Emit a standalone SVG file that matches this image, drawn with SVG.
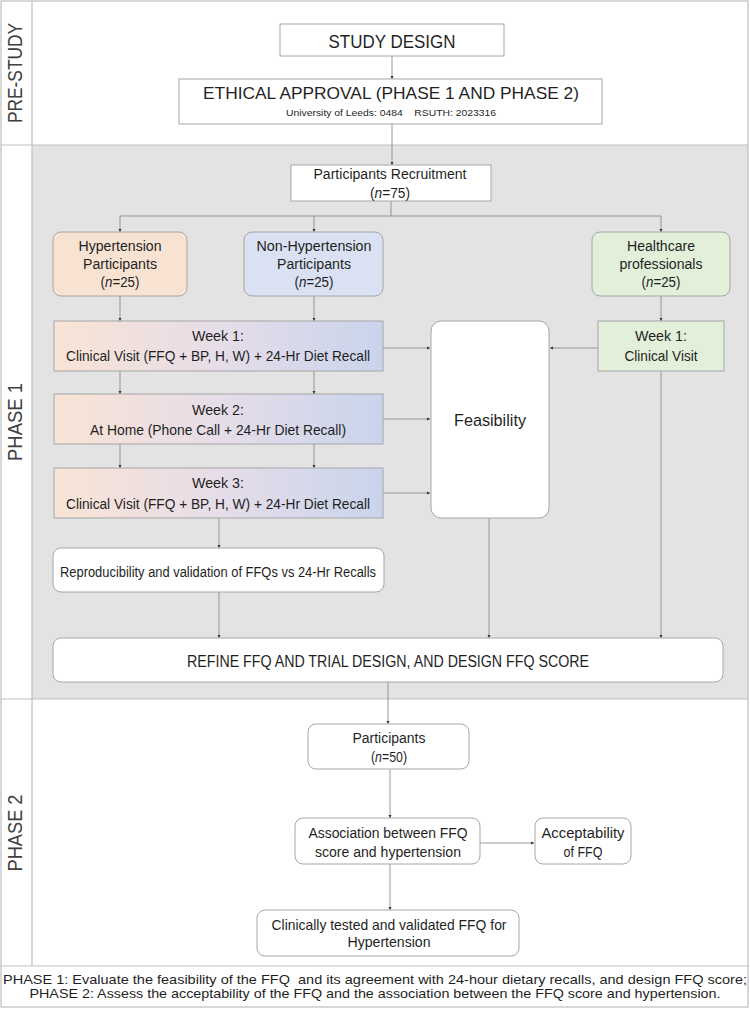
<svg xmlns="http://www.w3.org/2000/svg" width="750" height="1009" viewBox="0 0 750 1009">
<defs>
<style>
text{font-family:"Liberation Sans",Arial,sans-serif;fill:#1f1f1f;text-anchor:middle}
.t14{font-size:14px}
.t15{font-size:15px}
.t13{font-size:13px}
.lab{font-size:20px;fill:#404040}
.box{fill:#fff;stroke:#a6a6a6;stroke-width:1}
.hyp{fill:#f8e3d3;stroke:#a6a6a6;stroke-width:1}
.non{fill:#d9e1f2;stroke:#a6a6a6;stroke-width:1}
.hc{fill:#e2efd9;stroke:#a6a6a6;stroke-width:1}
.wk{fill:url(#gw);stroke:#a6a6a6;stroke-width:1}
.c{fill:none;stroke:#8c8c8c;stroke-width:0.9}
.frame{fill:none;stroke:#bfbfbf;stroke-width:1.2}
</style>
<linearGradient id="gw" x1="0" y1="0" x2="1" y2="0">
<stop offset="0" stop-color="#f9e4d5"/>
<stop offset="0.5" stop-color="#e6dde8"/>
<stop offset="1" stop-color="#c9d4ec"/>
</linearGradient>
<marker id="ah" markerWidth="4" markerHeight="4" refX="3" refY="2" orient="auto" markerUnits="userSpaceOnUse">
<path d="M0,0.5 L3,2 L0,3.5 Z" fill="#333"/>
</marker>
</defs>

<g id="background">
<rect x="0" y="0" width="750" height="1009" fill="#fff"/>
<rect x="32" y="145" width="716" height="554" fill="#e3e3e3"/>
<rect x="1" y="1" width="747" height="1006" class="frame"/>
<line x1="32" y1="1" x2="32" y2="966" class="frame"/>
<line x1="1" y1="145" x2="748" y2="145" class="frame"/>
<line x1="1" y1="699" x2="748" y2="699" class="frame"/>
<line x1="1" y1="966" x2="748" y2="966" class="frame"/>
</g>

<g id="labels">
<text class="lab" transform="translate(22,73) rotate(-90)" textLength="100" lengthAdjust="spacingAndGlyphs">PRE-STUDY</text>
<text class="lab" transform="translate(22,422) rotate(-90)" textLength="78" lengthAdjust="spacingAndGlyphs">PHASE 1</text>
<text class="lab" transform="translate(22,833) rotate(-90)" textLength="77" lengthAdjust="spacingAndGlyphs">PHASE 2</text>
</g>

<g id="connectors">
<line x1="392" y1="56" x2="392" y2="79" class="c" marker-end="url(#ah)"/>
<line x1="392" y1="124" x2="392" y2="165" class="c" marker-end="url(#ah)"/>
<polyline points="391,201 391,216" class="c"/>
<line x1="120" y1="216" x2="661" y2="216" class="c"/>
<line x1="120" y1="216" x2="120" y2="232" class="c" marker-end="url(#ah)"/>
<line x1="314" y1="216" x2="314" y2="232" class="c" marker-end="url(#ah)"/>
<line x1="661" y1="216" x2="661" y2="232" class="c" marker-end="url(#ah)"/>
<line x1="120" y1="296" x2="120" y2="321" class="c" marker-end="url(#ah)"/>
<line x1="314" y1="296" x2="314" y2="321" class="c" marker-end="url(#ah)"/>
<line x1="661" y1="296" x2="661" y2="321" class="c" marker-end="url(#ah)"/>
<line x1="120" y1="371" x2="120" y2="394" class="c" marker-end="url(#ah)"/>
<line x1="314" y1="371" x2="314" y2="394" class="c" marker-end="url(#ah)"/>
<line x1="120" y1="444" x2="120" y2="468" class="c" marker-end="url(#ah)"/>
<line x1="314" y1="444" x2="314" y2="468" class="c" marker-end="url(#ah)"/>
<line x1="383" y1="348" x2="430" y2="348" class="c" marker-end="url(#ah)"/>
<line x1="383" y1="419" x2="430" y2="419" class="c" marker-end="url(#ah)"/>
<line x1="383" y1="493" x2="430" y2="493" class="c" marker-end="url(#ah)"/>
<line x1="598" y1="348" x2="550" y2="348" class="c" marker-end="url(#ah)"/>
<line x1="219" y1="518" x2="219" y2="548" class="c" marker-end="url(#ah)"/>
<line x1="219" y1="592" x2="219" y2="638" class="c" marker-end="url(#ah)"/>
<line x1="489" y1="518" x2="489" y2="638" class="c" marker-end="url(#ah)"/>
<line x1="661" y1="371" x2="661" y2="638" class="c" marker-end="url(#ah)"/>
<line x1="388" y1="682" x2="388" y2="724" class="c" marker-end="url(#ah)"/>
<line x1="390" y1="769" x2="390" y2="818" class="c" marker-end="url(#ah)"/>
<line x1="480" y1="843" x2="534" y2="843" class="c" marker-end="url(#ah)"/>
<line x1="390" y1="864" x2="390" y2="910" class="c" marker-end="url(#ah)"/>
</g>

<g id="study-design">
<rect x="280" y="24" width="224" height="32" class="box"/>
<text x="392" y="48" style="font-size:18px" textLength="127" lengthAdjust="spacingAndGlyphs">STUDY DESIGN</text>
</g>

<g id="ethical-approval">
<rect x="179" y="79" width="423" height="45" class="box"/>
<text x="391" y="98.5" style="font-size:16.5px" textLength="376" lengthAdjust="spacingAndGlyphs">ETHICAL APPROVAL (PHASE 1 AND PHASE 2)</text>
<text x="391" y="116" style="font-size:9.5px" textLength="210" lengthAdjust="spacingAndGlyphs" xml:space="preserve">University of Leeds: 0484    RSUTH: 2023316</text>
</g>

<g id="recruitment">
<rect x="291" y="165" width="200" height="36" class="box"/>
<text x="390" y="179" class="t14" textLength="153" lengthAdjust="spacingAndGlyphs">Participants Recruitment</text>
<text x="390" y="198" class="t14" textLength="40" lengthAdjust="spacingAndGlyphs">(<tspan font-style="italic">n</tspan>=75)</text>
</g>

<g id="hypertension">
<rect x="53" y="232" width="134" height="64" rx="8" class="hyp"/>
<text x="120" y="251" class="t14" textLength="83" lengthAdjust="spacingAndGlyphs">Hypertension</text>
<text x="120" y="268.5" class="t14" textLength="74" lengthAdjust="spacingAndGlyphs">Participants</text>
<text x="120" y="286.5" class="t14" textLength="39" lengthAdjust="spacingAndGlyphs">(<tspan font-style="italic">n</tspan>=25)</text>
</g>

<g id="non-hypertension">
<rect x="244" y="232" width="139" height="64" rx="8" class="non"/>
<text x="314" y="251" class="t14" textLength="115" lengthAdjust="spacingAndGlyphs">Non-Hypertension</text>
<text x="314" y="268.5" class="t14" textLength="74" lengthAdjust="spacingAndGlyphs">Participants</text>
<text x="314" y="286.5" class="t14" textLength="39" lengthAdjust="spacingAndGlyphs">(<tspan font-style="italic">n</tspan>=25)</text>
</g>

<g id="healthcare">
<rect x="592" y="232" width="138" height="64" rx="8" class="hc"/>
<text x="661" y="251" class="t14" textLength="68" lengthAdjust="spacingAndGlyphs">Healthcare</text>
<text x="661" y="268.5" class="t14" textLength="83" lengthAdjust="spacingAndGlyphs">professionals</text>
<text x="661" y="286.5" class="t14" textLength="39" lengthAdjust="spacingAndGlyphs">(<tspan font-style="italic">n</tspan>=25)</text>
</g>

<g id="week1">
<rect x="54" y="321" width="329" height="50" class="wk"/>
<text x="218" y="341" class="t15" textLength="52" lengthAdjust="spacingAndGlyphs">Week 1:</text>
<text x="218" y="360.5" class="t15" textLength="304" lengthAdjust="spacingAndGlyphs">Clinical Visit (FFQ + BP, H, W) + 24-Hr Diet Recall</text>
</g>

<g id="week2">
<rect x="54" y="394" width="329" height="50" class="wk"/>
<text x="218" y="415" class="t15" textLength="52" lengthAdjust="spacingAndGlyphs">Week 2:</text>
<text x="218" y="434.5" class="t15" textLength="256" lengthAdjust="spacingAndGlyphs">At Home (Phone Call + 24-Hr Diet Recall)</text>
</g>

<g id="week3">
<rect x="54" y="468" width="329" height="50" class="wk"/>
<text x="218" y="488" class="t15" textLength="52" lengthAdjust="spacingAndGlyphs">Week 3:</text>
<text x="218" y="508.5" class="t15" textLength="304" lengthAdjust="spacingAndGlyphs">Clinical Visit (FFQ + BP, H, W) + 24-Hr Diet Recall</text>
</g>

<g id="healthcare-week1">
<rect x="598" y="321" width="126" height="50" class="hc"/>
<text x="661" y="341" class="t15" textLength="52" lengthAdjust="spacingAndGlyphs">Week 1:</text>
<text x="661" y="360.5" class="t15" textLength="73" lengthAdjust="spacingAndGlyphs">Clinical Visit</text>
</g>

<g id="feasibility">
<rect x="431" y="321" width="118" height="197" rx="10" class="box"/>
<text x="490" y="426" style="font-size:17px" textLength="72" lengthAdjust="spacingAndGlyphs">Feasibility</text>
</g>

<g id="reproducibility">
<rect x="53" y="548" width="331" height="44" rx="8" class="box"/>
<text x="218" y="577" class="t14" textLength="316" lengthAdjust="spacingAndGlyphs">Reproducibility and validation of FFQs vs 24-Hr Recalls</text>
</g>

<g id="refine">
<rect x="53" y="638" width="670" height="44" rx="8" class="box"/>
<text x="388" y="666.5" style="font-size:16px" textLength="402" lengthAdjust="spacingAndGlyphs">REFINE FFQ AND TRIAL DESIGN, AND DESIGN FFQ SCORE</text>
</g>

<g id="participants-phase2">
<rect x="308" y="724" width="161" height="45" rx="8" class="box"/>
<text x="389" y="742.5" class="t14" textLength="73" lengthAdjust="spacingAndGlyphs">Participants</text>
<text x="389" y="761.5" class="t14" textLength="36" lengthAdjust="spacingAndGlyphs">(<tspan font-style="italic">n</tspan>=50)</text>
</g>

<g id="association">
<rect x="295" y="818" width="185" height="46" rx="8" class="box"/>
<text x="388" y="838" class="t14" textLength="159" lengthAdjust="spacingAndGlyphs">Association between FFQ</text>
<text x="388" y="857" class="t14" textLength="146" lengthAdjust="spacingAndGlyphs">score and hypertension</text>
</g>

<g id="acceptability">
<rect x="535" y="818" width="96" height="46" rx="8" class="box"/>
<text x="583" y="838" class="t14" textLength="83" lengthAdjust="spacingAndGlyphs">Acceptability</text>
<text x="583" y="857" class="t14" textLength="39" lengthAdjust="spacingAndGlyphs">of FFQ</text>
</g>

<g id="validated-ffq">
<rect x="257" y="910" width="262" height="46" rx="8" class="box"/>
<text x="389" y="930" class="t15" textLength="235" lengthAdjust="spacingAndGlyphs">Clinically tested and validated FFQ for</text>
<text x="389" y="947" class="t15" textLength="83" lengthAdjust="spacingAndGlyphs">Hypertension</text>
</g>

<g id="caption">
<text x="375" y="983.5" class="t13" textLength="744" lengthAdjust="spacingAndGlyphs" xml:space="preserve">PHASE 1: Evaluate the feasibility of the FFQ  and its agreement with 24-hour dietary recalls, and design FFQ score;</text>
<text x="375" y="998" class="t13" textLength="691" lengthAdjust="spacingAndGlyphs">PHASE 2: Assess the acceptability of the FFQ and the association between the FFQ score and hypertension.</text>
</g>
</svg>
